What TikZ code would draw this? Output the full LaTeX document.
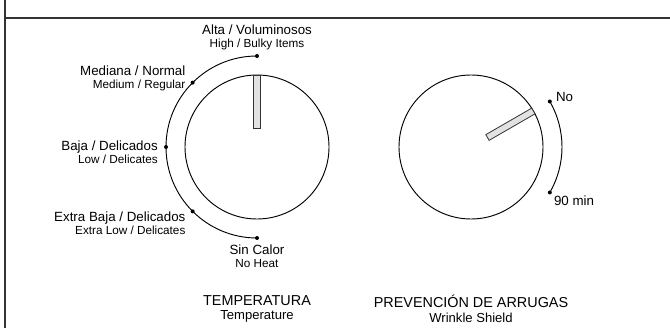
\documentclass[tikz,border=0pt]{standalone}
\usepackage{fontspec}
\setmainfont{Liberation Sans}
\usetikzlibrary{positioning}

\definecolor{framegray}{HTML}{333333}
\definecolor{barfill}{HTML}{E2E2E2}

\newcommand{\mainsz}{\fontsize{10}{10.5}\selectfont}
\newcommand{\subsz}{\fontsize{8.8}{9.5}\selectfont}

\tikzset{
  knobline/.style={line width=0.7pt, black},
  knobbar/.style={line width=0.6pt, draw=framegray, fill=barfill},
  dialdot/.style={circle, fill=black, inner sep=0pt, minimum size=3pt},
  dial label/.style={inner sep=0pt, font=\mainsz},
  title label/.style={inner sep=0pt, align=center, font=\fontsize{10.8}{12}\selectfont}
}

\begin{document}
\begin{tikzpicture}[x=0.75pt,y=0.75pt]
                    \useasboundingbox (0,0) rectangle (670,328);

                    % Drawing frame
                    \draw [line width=1.6pt, framegray] (5,0) -- (5,328);%
                    \draw [line width=1.6pt, framegray] (5,310) -- (670,310);%

                    % Knob centres
                    \coordinate (tc) at (257,181);%
                    \coordinate (wc) at (471,181);%

                    % Drawing knob TEMPERATURA
                    \draw [knobline] (tc) circle (72);%
                    \begin{scope}[shift={(tc)}, rotate=90]
                      \draw [knobbar] (19,-3.3) rectangle (72,3.3);%
                    \end{scope}

                    % Marking dial points on arc
                    \node [dialdot] (alta) at ([shift={(90:91)}]tc) {};%
                    \node [dialdot] (mediana) at ([shift={(135:91)}]tc) {};%
                    \node [dialdot] (baja) at ([shift={(180:91)}]tc) {};%
                    \node [dialdot] (extra) at ([shift={(225:91)}]tc) {};%
                    \node [dialdot] (sincalor) at ([shift={(270:91)}]tc) {};%
                    \draw [knobline] (alta.center) arc [start angle=90, end angle=270, radius=91];%

                    % Labels of dial points
                    \node [dial label, align=center, anchor=south] (altatxt) at ([yshift=4.5pt]alta) {Alta / Voluminosos\\[-1pt]{\subsz High / Bulky Items}};%
                    \node [dial label, align=right, anchor=east] (medianatxt) at ([shift={(-7,4)}]mediana) {Mediana / Normal\\[-1pt]{\subsz Medium / Regular}};%
                    \node [dial label, align=right, anchor=east] (bajatxt) at ([shift={(-8,-5)}]baja) {Baja / Delicados\\[-1pt]{\subsz Low / Delicates}};%
                    \node [dial label, align=right, anchor=east] (extratxt) at ([shift={(-7,-12)}]extra) {Extra Baja / Delicados\\[-1pt]{\subsz Extra Low / Delicates}};%
                    \node [dial label, align=center, anchor=north] (sincalortxt) at ([yshift=-5pt]sincalor) {Sin Calor\\[-1pt]{\subsz No Heat}};%

                    % Drawing knob PREVENCION
                    \draw [knobline] (wc) circle (72);%
                    \begin{scope}[shift={(wc)}, rotate=30]
                      \draw [knobbar] (19,-3.3) rectangle (72,3.3);%
                    \end{scope}
                    \node [dialdot] (no) at ([shift={(30:91)}]wc) {};%
                    \node [dialdot] (noventa) at ([shift={(-30:91)}]wc) {};%
                    \draw [knobline] (no.center) arc [start angle=30, end angle=-30, radius=91];%
                    \node [dial label, anchor=west] (notxt) at ([shift={(6,5)}]no) {No};%
                    \node [dial label, anchor=west] (noventatxt) at ([shift={(4,-8)}]noventa) {90 min};%

                    % Titles
                    \node [title label] (ttitle) at (257,19) {TEMPERATURA\\[-1pt]{\fontsize{9.8}{10}\selectfont Temperature}};%
                    \node [title label] (wtitle) at (471,19) {PREVENCIÓN DE ARRUGAS\\[-1pt]{\fontsize{9.8}{10}\selectfont Wrinkle Shield}};%
\end{tikzpicture}
\end{document}
